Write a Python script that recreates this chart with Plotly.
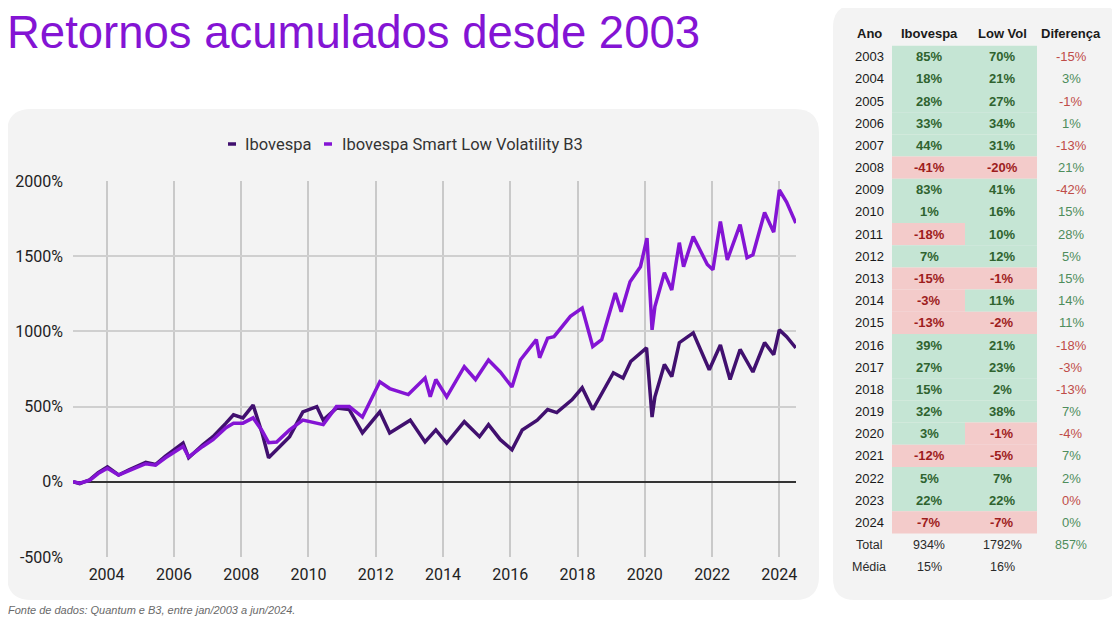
import plotly.graph_objects as go

# ---------------- data ----------------
ibov_dates = ["2003-01-02","2003-03-15","2003-07-01","2003-10-01","2004-01-10","2004-05-10","2004-09-01",
              "2005-03-01","2005-06-15","2005-10-01","2006-04-10","2006-06-10","2006-11-10","2007-03-01",
              "2007-07-20","2007-10-10","2008-01-20","2008-05-10","2008-08-15","2008-10-25","2009-01-20",
              "2009-06-10","2009-11-01","2010-01-10","2010-04-01","2010-06-10","2010-11-01","2011-03-20",
              "2011-08-10","2012-02-15","2012-06-01","2013-01-10","2013-06-20","2013-10-15","2014-02-10",
              "2014-08-20","2015-02-01","2015-05-10","2015-09-15","2016-01-20","2016-05-10","2016-10-20",
              "2017-02-10","2017-05-20","2017-11-01","2018-02-20","2018-06-15","2019-01-25","2019-05-10",
              "2019-08-01","2020-01-20","2020-03-20","2020-04-20","2020-08-01","2020-10-20","2021-01-10",
              "2021-06-10","2021-12-01","2022-04-01","2022-07-15","2022-11-01","2023-03-20","2023-07-25",
              "2023-11-01","2024-01-01","2024-03-20","2024-06-28"]
ibov_vals = [0, -12, 13, 60, 100, 45, 80,
             130, 115, 170, 258, 160, 245, 300,
             390, 445, 425, 510, 325, 160, 213,
             300, 465, 480, 500, 410, 490, 480,
             325, 465, 325, 410, 265, 345, 258,
             400, 300, 380, 280, 213, 345, 410,
             480, 460, 545, 625, 480, 725, 690,
             800, 890, 430, 565, 780, 700, 925,
             990, 745, 910, 680, 880, 730, 925,
             845, 1010, 965, 890]

lv_dates = ["2003-01-02","2003-03-15","2003-07-01","2003-10-01","2004-01-10","2004-05-10","2004-09-01",
            "2005-03-01","2005-06-15","2005-10-01","2006-04-10","2006-06-10","2006-11-10","2007-03-01",
            "2007-07-20","2007-10-10","2008-01-20","2008-05-10","2008-08-15","2008-10-25","2009-01-20",
            "2009-06-10","2009-11-01","2010-04-01","2010-06-10","2010-11-01","2011-03-20","2011-08-10",
            "2012-02-15","2012-06-01","2012-12-20","2013-06-20","2013-08-15","2013-10-15","2014-02-10",
            "2014-08-20","2014-12-20","2015-05-10","2015-09-15","2016-01-20","2016-04-20","2016-10-10",
            "2016-11-15","2017-02-10","2017-04-20","2017-10-15","2018-02-20","2018-06-15","2018-09-20",
            "2019-02-15","2019-04-20","2019-07-25","2019-11-15","2020-01-25","2020-03-20","2020-04-20",
            "2020-08-01","2020-10-20","2021-01-10","2021-02-25","2021-06-10","2021-11-10","2022-01-10",
            "2022-04-01","2022-06-15","2022-11-01","2023-01-15","2023-03-20","2023-07-25","2023-11-01",
            "2024-01-01","2024-03-20","2024-06-28"]
lv_vals = [0, -10, 10, 55, 90, 45, 75,
           120, 110, 160, 235, 165, 235, 280,
           360, 390, 390, 425, 340, 260, 265,
           345, 410, 390, 380, 500, 500, 430,
           665, 620, 580, 690, 565, 680, 565,
           765, 680, 810, 730, 630, 810, 945,
           825, 955, 965, 1100, 1155, 900, 945,
           1255, 1130, 1330, 1430, 1620, 1010, 1165,
           1390, 1275, 1590, 1430, 1630, 1445, 1410,
           1730, 1475, 1710, 1490, 1510, 1790, 1660,
           1940, 1860, 1720]

table_header = ["Ano", "Ibovespa", "Low Vol", "Diferença"]
anos = list(range(2003, 2025))
ibov_anual = [85, 18, 28, 33, 44, -41, 83, 1, -18, 7, -15, -3, -13, 39, 27, 15, 32, 3, -12, 5, 22, -7]
lowvol_anual = [70, 21, 27, 34, 31, -20, 41, 16, 10, 12, -1, 11, -2, 21, 23, 2, 38, -1, -5, 7, 22, -7]
diferenca = [-15, 3, -1, 1, -13, 21, -42, 15, 28, 5, 15, 14, 11, -18, -3, -13, 7, -4, 7, 2, -0.3, 0.3]
total_row = ["Total", "934%", "1792%", "857%"]
media_row = ["Média", "15%", "16%", ""]

title_text = "Retornos acumulados desde 2003"
source_text = "Fonte de dados: Quantum e B3, entre jan/2003 a jun/2024."
series_names = ["Ibovespa", "Ibovespa Smart Low Volatility B3"]
ytick_vals = [-500, 0, 500, 1000, 1500, 2000]
ytick_text = ["-500%", "0%", "500%", "1000%", "1500%", "2000%"]

# ---------------- style ----------------
OFF = 8  # page body margin
W, H = 1120 - OFF, 621 - OFF
PL, PR, PT, PB = 73 - OFF, 796 - OFF, 181 - OFF, 557 - OFF
DARK = "#41106f"
BRIGHT = "#8414d4"
CARD = "#f3f3f3"
GREEN_BG = "#c5e5d4"
RED_BG = "#f3cbca"
GREEN_TX = "#2f632f"
RED_TX = "#9e1d1d"
GREEN_DIF = "#4e8d5c"
RED_DIF = "#bf4c48"
TFONT = "Liberation Sans, Arial, sans-serif"
CFONT = "Roboto, sans-serif"


def px(x):
    # x given in reference-picture pixels
    return (x - OFF - PL) / (PR - PL)


def py(y):
    return (PB - (y - OFF)) / (PB - PT)


def rounded_rect(x0, y0, x1, y1, r):
    pts = [
        ("M", x0 + r, y0),
        ("L", x1 - r, y0),
        ("Q", x1, y0, x1, y0 + r),
        ("L", x1, y1 - r),
        ("Q", x1, y1, x1 - r, y1),
        ("L", x0 + r, y1),
        ("Q", x0, y1, x0, y1 - r),
        ("L", x0, y0 + r),
        ("Q", x0, y0, x0 + r, y0),
    ]
    out = ""
    for p in pts:
        cmd = p[0]
        c = p[1:]
        pairs = [f"{px(c[i]):.5f},{py(c[i + 1]):.5f}" for i in range(0, len(c), 2)]
        out += cmd + " " + " ".join(pairs) + " "
    return out + "Z"


fig = go.Figure()
fig.add_trace(go.Scatter(x=ibov_dates, y=ibov_vals, mode="lines", name=series_names[0],
                         line=dict(color=DARK, width=3.5), showlegend=False))
fig.add_trace(go.Scatter(x=lv_dates, y=lv_vals, mode="lines", name=series_names[1],
                         line=dict(color=BRIGHT, width=3.5), showlegend=False))

shapes = []
annotations = []

# cards
shapes.append(dict(type="path", xref="paper", yref="paper", path=rounded_rect(7, 109, 819, 600, 24),
                   fillcolor=CARD, line=dict(width=0), layer="below"))
shapes.append(dict(type="path", xref="paper", yref="paper", path=rounded_rect(833, 5, 1119, 600, 22),
                   fillcolor=CARD, line=dict(width=0), layer="below"))

# title
annotations.append(dict(text=title_text, xref="paper", yref="paper", x=px(5), y=py(32),
                        xanchor="left", yanchor="middle", showarrow=False,
                        font=dict(family=TFONT, size=45.5, color=BRIGHT)))
# source
annotations.append(dict(text=f"<i>{source_text}</i>", xref="paper", yref="paper", x=px(6), y=py(610),
                        xanchor="left", yanchor="middle", showarrow=False,
                        font=dict(family=TFONT, size=11, color="#6a6a6a")))

# manual legend
leg_y = 144
for (x0, x1, tx), name, col in zip([(228, 236, 243), (324, 332, 340)], series_names, [DARK, BRIGHT]):
    shapes.append(dict(type="line", xref="paper", yref="paper", x0=px(x0), x1=px(x1), y0=py(leg_y), y1=py(leg_y),
                       line=dict(color=col, width=3.5)))
    annotations.append(dict(text=name, xref="paper", yref="paper", x=px(tx), y=py(leg_y),
                            xanchor="left", yanchor="middle", showarrow=False,
                            font=dict(family=CFONT, size=16.5, color="#333333")))

# table
col_x = [869, 929, 1002, 1071]
row0 = 56.8
rstep = 22.17
head_y = 33
for cx, t in zip(col_x, table_header):
    annotations.append(dict(text=f"<b>{t}</b>", xref="paper", yref="paper", x=px(cx), y=py(head_y),
                            xanchor="center", yanchor="middle", showarrow=False,
                            font=dict(family=TFONT, size=13, color="#1a1a1a")))

cell_bounds = [(892, 965), (965, 1037)]
for i, ano in enumerate(anos):
    cy = row0 + i * rstep
    annotations.append(dict(text=str(ano), xref="paper", yref="paper", x=px(col_x[0]), y=py(cy),
                            xanchor="center", yanchor="middle", showarrow=False,
                            font=dict(family=TFONT, size=13, color="#1a1a1a")))
    for j, v in enumerate([ibov_anual[i], lowvol_anual[i]]):
        bx0, bx1 = cell_bounds[j]
        shapes.append(dict(type="rect", xref="paper", yref="paper", x0=px(bx0), x1=px(bx1),
                           y0=py(cy - rstep / 2), y1=py(cy + rstep / 2),
                           fillcolor=GREEN_BG if v >= 0 else RED_BG, line=dict(width=0), layer="below"))
        annotations.append(dict(text=f"<b>{v}%</b>", xref="paper", yref="paper", x=px(col_x[j + 1]), y=py(cy),
                                xanchor="center", yanchor="middle", showarrow=False,
                                font=dict(family=TFONT, size=13, color=GREEN_TX if v >= 0 else RED_TX)))
    d = diferenca[i]
    r = int(round(d))
    annotations.append(dict(text=f"{r}%", xref="paper", yref="paper",
                            x=px(col_x[3]), y=py(cy), xanchor="center", yanchor="middle", showarrow=False,
                            font=dict(family=TFONT, size=13, color=GREEN_DIF if d >= 0 else RED_DIF)))

for k, row in enumerate([total_row, media_row]):
    cy = row0 + (len(anos) + k) * rstep
    for j, t in enumerate(row):
        color = "#2a2a2a"
        if j == 3 and t:
            color = GREEN_DIF
        annotations.append(dict(text=t, xref="paper", yref="paper", x=px(col_x[j]), y=py(cy),
                                xanchor="center", yanchor="middle", showarrow=False,
                                font=dict(family=TFONT, size=12.5, color=color)))

fig.update_layout(
    width=W, height=H,
    margin=dict(l=PL, r=W - PR, t=PT, b=H - PB, pad=0, autoexpand=False),
    paper_bgcolor="white",
    plot_bgcolor="rgba(0,0,0,0)",
    shapes=shapes,
    annotations=annotations,
    showlegend=False,
    xaxis=dict(type="date", range=["2003-01-01", "2024-06-30"], tick0="2004-01-01", dtick="M24",
               tickformat="%Y", showgrid=True, gridcolor="#c9c9c9", gridwidth=1.5,
               showline=False, zeroline=False, ticks="", ticklabelstandoff=6, automargin=False,
               tickfont=dict(family=CFONT, size=16, color="#222222")),
    yaxis=dict(range=[-500, 2000], tickvals=ytick_vals, ticktext=ytick_text,
               showgrid=True, gridcolor="#cfcfcf", gridwidth=1.5,
               zeroline=True, zerolinecolor="#333333", zerolinewidth=1.5,
               showline=False, ticks="", ticklabelstandoff=9, automargin=False,
               tickfont=dict(family=CFONT, size=16, color="#222222")),
)

fig.write_html("out.html")
